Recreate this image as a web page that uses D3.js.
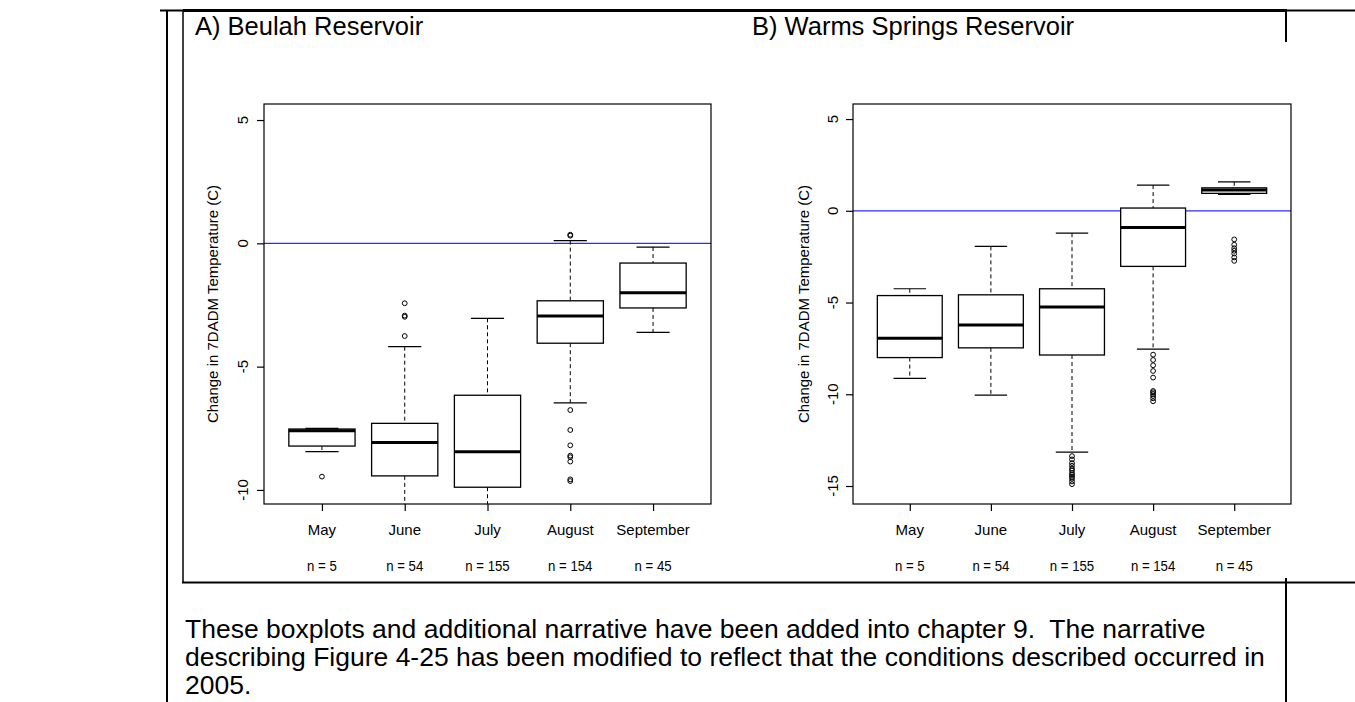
<!DOCTYPE html>
<html>
<head>
<meta charset="utf-8">
<script src="https://cdn.jsdelivr.net/npm/d3@7"></script>
<style>
  body { margin: 0; background: #fff; }
  svg text { font-family: "Liberation Sans", Arial, sans-serif; fill: #000; }
</style>
</head>
<body>
<svg id="chart" width="1355" height="702"></svg>
<script>
var months = ["May", "June", "July", "August", "September"];
var counts = [5, 54, 155, 154, 45];

// Beulah Reservoir (panel A): whisker low, Q1, median, Q3, whisker high
var beulahLow  = [-8.45, -11.0, -11.5, -6.47, -3.61];
var beulahQ1   = [-8.22, -9.43, -9.89, -4.05, -2.62];
var beulahMed  = [-7.60, -8.08, -8.45, -2.95, -2.00];
var beulahQ3   = [-7.53, -7.30, -6.16, -2.33, -0.80];
var beulahHigh = [-7.50, -4.19, -3.04, 0.11, -0.15];
var beulahOut  = [
  [-9.46],
  [-2.43, -2.93, -2.98, -3.76],
  [],
  [0.31, 0.35, -6.76, -7.57, -8.19, -8.61, -8.67, -8.85, -9.57, -9.64],
  []
];
var beulahTicks = [-10, -5, 0, 5];

// Warm Springs Reservoir (panel B)
var warmLow  = [-9.13, -10.05, -13.15, -7.54, 0.90];
var warmQ1   = [-8.00, -7.47, -7.86, -3.03, 0.95];
var warmMed  = [-6.94, -6.22, -5.25, -0.91, 1.13];
var warmQ3   = [-4.62, -4.58, -4.25, 0.15, 1.25];
var warmHigh = [-4.25, -1.94, -1.22, 1.40, 1.58];
var warmOut  = [
  [],
  [],
  [-13.37, -13.55, -13.75, -13.9, -14.05, -14.15, -14.3, -14.4, -14.5, -14.6, -14.75, -14.9],
  [-7.84, -8.13, -8.42, -8.73, -9.09, -9.82, -9.89, -9.98, -10.09, -10.22, -10.38],
  [-1.56, -1.85, -2.04, -2.18, -2.33, -2.54, -2.73]
];
var warmTicks = [-15, -10, -5, 0, 5];

var bodyLines = [
  "These boxplots and additional narrative have been added into chapter 9.  The narrative",
  "describing Figure 4-25 has been modified to reflect that the conditions described occurred in",
  "2005."
];

var svg = d3.select("#chart");

// table / frame lines
var frame = svg.append("g").attr("stroke", "#000").attr("fill", "none");
frame.append("line").attr("x1", 160).attr("y1", 10.5).attr("x2", 1355).attr("y2", 10.5).attr("stroke-width", 2);
frame.append("line").attr("x1", 183).attr("y1", 10.5).attr("x2", 1287).attr("y2", 10.5).attr("stroke-width", 3);
frame.append("line").attr("x1", 167).attr("y1", 10).attr("x2", 167).attr("y2", 702).attr("stroke-width", 2);
frame.append("line").attr("x1", 183).attr("y1", 10).attr("x2", 183).attr("y2", 583).attr("stroke-width", 1.5);
frame.append("line").attr("x1", 182).attr("y1", 582.5).attr("x2", 1355).attr("y2", 582.5).attr("stroke-width", 2);
frame.append("line").attr("x1", 1286).attr("y1", 10).attr("x2", 1286).attr("y2", 42).attr("stroke-width", 2);
frame.append("line").attr("x1", 1286).attr("y1", 578).attr("x2", 1286).attr("y2", 702).attr("stroke-width", 2);

function drawPanel(p) {
  var g = svg.append("g");
  var x = d3.scaleLinear().domain([0.3, 5.7]).range([p.left, p.right]);
  var y = d3.scaleLinear().domain(p.ydom).range([p.bottom, p.top]);
  var bw = x(1.4) - x(1);  // half box width (0.8 total)
  var sw = x(1.2) - x(1);  // half staple width

  g.append("text").attr("x", p.titleX).attr("y", 35)
    .style("font-size", "25.5px").text(p.title);

  var clipId = "clip" + p.id;
  g.append("clipPath").attr("id", clipId).append("rect")
    .attr("x", p.left).attr("y", p.top)
    .attr("width", p.right - p.left).attr("height", p.bottom - p.top);

  var plot = g.append("g").attr("clip-path", "url(#" + clipId + ")");

  // zero reference line
  plot.append("line")
    .attr("x1", p.left).attr("x2", p.right)
    .attr("y1", y(0)).attr("y2", y(0))
    .attr("stroke", "#2b2bff").attr("stroke-width", 1.2);

  var boxes = plot.selectAll("g.box").data(months).enter().append("g").attr("class", "box");

  boxes.each(function(m, i) {
    var b = d3.select(this);
    var cx = x(i + 1);
    // whiskers
    b.append("line").attr("x1", cx).attr("x2", cx)
      .attr("y1", y(p.high[i])).attr("y2", y(p.q3[i]))
      .attr("stroke", "#000").attr("stroke-dasharray", "4,3").attr("stroke-width", 1);
    b.append("line").attr("x1", cx).attr("x2", cx)
      .attr("y1", y(p.q1[i])).attr("y2", y(p.low[i]))
      .attr("stroke", "#000").attr("stroke-dasharray", "4,3").attr("stroke-width", 1);
    // staples
    [p.high[i], p.low[i]].forEach(function(v) {
      b.append("line").attr("x1", cx - sw).attr("x2", cx + sw)
        .attr("y1", y(v)).attr("y2", y(v))
        .attr("stroke", "#000").attr("stroke-width", 1.2);
    });
    // box
    b.append("rect")
      .attr("x", cx - bw).attr("width", 2 * bw)
      .attr("y", y(p.q3[i])).attr("height", y(p.q1[i]) - y(p.q3[i]))
      .attr("fill", "#fff").attr("stroke", "#000").attr("stroke-width", 1.3);
    // median
    b.append("line").attr("x1", cx - bw).attr("x2", cx + bw)
      .attr("y1", y(p.med[i])).attr("y2", y(p.med[i]))
      .attr("stroke", "#000").attr("stroke-width", 3);
    // outliers
    b.selectAll("circle").data(p.out[i]).enter().append("circle")
      .attr("cx", cx).attr("cy", function(d) { return y(d); })
      .attr("r", 2.4).attr("fill", "none").attr("stroke", "#000").attr("stroke-width", 1);
  });

  // frame
  g.append("rect")
    .attr("x", p.left).attr("y", p.top)
    .attr("width", p.right - p.left).attr("height", p.bottom - p.top)
    .attr("fill", "none").attr("stroke", "#000").attr("stroke-width", 1.2);

  // y axis
  var ya = g.append("g").attr("transform", "translate(" + p.left + ",0)")
    .call(d3.axisLeft(y).tickValues(p.ticks).tickSize(7).tickFormat(d3.format("d")));
  ya.select(".domain").remove();
  ya.selectAll("line").attr("stroke", "#000").attr("stroke-width", 1.2);
  ya.selectAll("text").remove();
  g.selectAll("text.ytick").data(p.ticks).enter().append("text")
    .attr("class", "ytick")
    .attr("transform", function(d) { return "translate(" + p.tickLabelX + "," + y(d) + ") rotate(-90)"; })
    .attr("text-anchor", "middle").style("font-size", "15px")
    .text(function(d) { return d; });

  g.append("text")
    .attr("transform", "translate(" + p.ylabX + "," + ((p.top + p.bottom) / 2) + ") rotate(-90)")
    .attr("text-anchor", "middle").style("font-size", "15px")
    .text("Change in 7DADM Temperature (C)");

  // x axis
  var xa = g.append("g").attr("transform", "translate(0," + p.bottom + ")")
    .call(d3.axisBottom(x).tickValues([1, 2, 3, 4, 5]).tickSize(7).tickFormat(""));
  xa.select(".domain").remove();
  xa.selectAll("line").attr("stroke", "#000").attr("stroke-width", 1.2);

  g.selectAll("text.month").data(months).enter().append("text")
    .attr("class", "month")
    .attr("x", function(d, i) { return x(i + 1); }).attr("y", 535)
    .attr("text-anchor", "middle").style("font-size", "15px")
    .text(function(d) { return d; });

  g.selectAll("text.count").data(counts).enter().append("text")
    .attr("class", "count")
    .attr("transform", function(d, i) { return "translate(" + x(i + 1) + ",571) scale(0.88,1)"; })
    .attr("text-anchor", "middle").style("font-size", "15px")
    .text(function(d) { return "n = " + d; });
}

drawPanel({
  id: "A", title: "A) Beulah Reservoir", titleX: 195,
  left: 264, right: 711, top: 104, bottom: 504,
  ydom: [-10.57, 5.65], ticks: beulahTicks,
  tickLabelX: 248, ylabX: 218,
  low: beulahLow, q1: beulahQ1, med: beulahMed, q3: beulahQ3, high: beulahHigh, out: beulahOut
});

drawPanel({
  id: "B", title: "B) Warms Springs Reservoir", titleX: 752,
  left: 853, right: 1291, top: 104, bottom: 504,
  ydom: [-15.98, 5.82], ticks: warmTicks,
  tickLabelX: 838, ylabX: 809,
  low: warmLow, q1: warmQ1, med: warmMed, q3: warmQ3, high: warmHigh, out: warmOut
});

svg.selectAll("text.body").data(bodyLines).enter().append("text")
  .attr("class", "body")
  .attr("x", 185).attr("y", function(d, i) { return 638 + i * 28; })
  .style("font-size", "26.5px").style("white-space", "pre")
  .text(function(d) { return d; });
</script>
</body>
</html>
